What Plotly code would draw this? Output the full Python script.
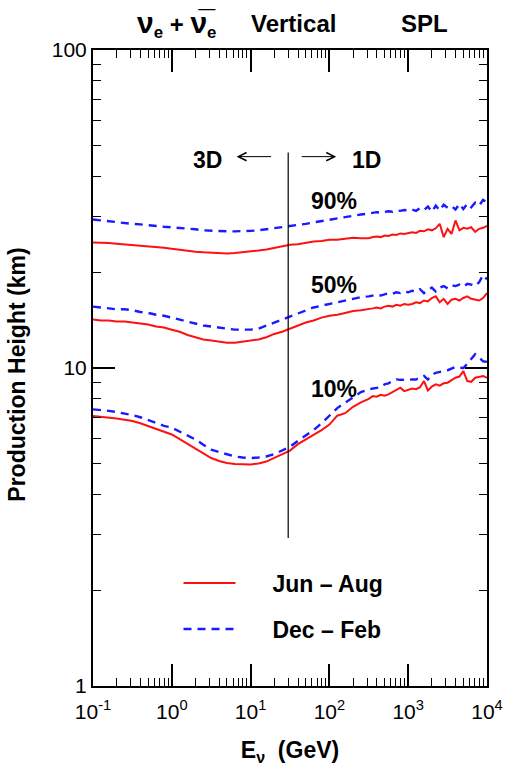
import math
import plotly.graph_objects as go

# Neutrino energy grid (log10 of E in GeV)
LOG_E = [-1.0, -0.9, -0.8, -0.7, -0.6, -0.5, -0.4, -0.3, -0.2, -0.1,
         0.0, 0.1, 0.2, 0.3, 0.4, 0.5, 0.6, 0.7, 0.8, 0.9,
         1.0, 1.1, 1.2, 1.3, 1.4, 1.5, 1.6, 1.7, 1.8, 1.9,
         2.0, 2.1, 2.2, 2.3, 2.4,
         2.5, 2.55, 2.6, 2.65, 2.7, 2.75, 2.8, 2.85, 2.9, 2.95,
         3.0, 3.05, 3.1, 3.15, 3.2, 3.25, 3.3, 3.35, 3.4, 3.45,
         3.5, 3.55, 3.6, 3.65, 3.7, 3.75, 3.8, 3.85, 3.9, 3.95, 4.0]
ENERGY = [10 ** v for v in LOG_E]

# Production height (km), Jun - Aug
SUMMER_90 = [24.8, 24.8, 24.7, 24.6, 24.5, 24.4, 24.3, 24.2, 24.0, 23.9,
             23.7, 23.5, 23.4, 23.2, 23.1, 23.0, 22.9, 22.9, 23.0, 23.1,
             23.2, 23.4, 23.6, 23.9, 24.1, 24.4, 24.5, 24.8, 25.0, 25.1,
             25.3, 25.3, 25.5, 25.7, 25.6,
             25.6, 25.8, 25.9, 25.8, 26.1, 26.0, 26.3, 26.2, 26.5, 26.4,
             26.6, 26.7, 26.6, 27.0, 26.9, 27.3, 27.1, 27.5, 28.4, 25.8,
             27.4, 26.4, 29.1, 27.1, 27.6, 27.4, 27.7, 26.8, 27.4, 27.6, 28.0]
SUMMER_50 = [14.2, 14.1, 14.1, 14.0, 14.0, 13.9, 13.8, 13.7, 13.5, 13.4,
             13.2, 13.0, 12.7, 12.5, 12.3, 12.2, 12.1, 12.0, 12.0, 12.1,
             12.2, 12.3, 12.5, 12.8, 13.0, 13.3, 13.6, 13.9, 14.1, 14.4,
             14.6, 14.7, 14.9, 15.1, 15.2,
             15.3, 15.4, 15.5, 15.4, 15.6, 15.7, 15.6, 15.8, 15.7, 15.9,
             15.8, 15.9, 16.1, 16.0, 16.3, 16.2, 16.6, 16.8, 16.1, 16.5,
             15.9, 16.4, 16.5, 16.3, 16.6, 16.8, 16.5, 16.4, 16.3, 16.6, 17.2]
SUMMER_10 = [7.06, 7.03, 6.99, 6.94, 6.88, 6.81, 6.70, 6.57, 6.44, 6.31,
             6.18, 5.98, 5.78, 5.61, 5.40, 5.21, 5.10, 5.03, 4.99, 4.97,
             4.97, 5.01, 5.08, 5.22, 5.36, 5.50, 5.76, 5.95, 6.14, 6.38,
             6.64, 7.08, 7.21, 7.55, 7.80,
             8.00, 8.16, 8.12, 8.24, 8.18, 8.26, 8.40, 8.52, 8.67, 8.46,
             8.55, 8.62, 8.58, 8.70, 9.10, 8.50, 8.74, 8.88, 8.80, 8.95,
             8.99, 9.15, 9.32, 9.40, 9.77, 9.10, 9.05, 9.32, 9.38, 9.44, 9.32]

# Production height (km), Dec - Feb
WINTER_90 = [29.3, 29.1, 29.0, 28.8, 28.6, 28.4, 28.3, 28.1, 28.0, 27.8,
             27.7, 27.6, 27.4, 27.3, 27.1, 27.0, 26.9, 26.9, 26.9, 26.9,
             27.0, 27.1, 27.3, 27.5, 27.7, 27.9, 28.2, 28.4, 28.7, 29.0,
             29.3, 29.6, 29.9, 30.2, 30.4,
             30.6, 30.7, 30.9, 30.8, 31.0, 31.1, 31.0, 31.3, 31.2, 31.4,
             31.3, 31.5, 31.2, 31.8, 31.4, 32.2, 31.0, 32.4, 31.3, 32.6,
             31.9, 32.3, 31.5, 32.8, 31.6, 32.9, 32.0, 33.1, 32.4, 33.8, 33.2]
WINTER_50 = [15.6, 15.5, 15.4, 15.3, 15.3, 15.2, 15.0, 14.9, 14.7, 14.6,
             14.4, 14.2, 14.0, 13.8, 13.6, 13.5, 13.4, 13.3, 13.2, 13.2,
             13.2, 13.3, 13.6, 13.9, 14.2, 14.5, 14.8, 15.2, 15.5, 15.7,
             15.9, 16.1, 16.3, 16.5, 16.7,
             16.8, 16.9, 17.0, 16.9, 17.1, 17.2, 17.1, 17.3, 17.2, 17.4,
             17.3, 17.5, 17.4, 17.7, 17.2, 17.6, 17.9, 17.4, 17.9, 18.1,
             17.8, 18.2, 18.1, 18.3, 18.0, 18.4, 18.3, 18.1, 18.6, 19.6, 19.0]
WINTER_10 = [7.41, 7.38, 7.33, 7.27, 7.20, 7.11, 7.00, 6.86, 6.72, 6.58,
             6.49, 6.30, 6.13, 5.96, 5.74, 5.54, 5.44, 5.34, 5.27, 5.23,
             5.21, 5.23, 5.27, 5.36, 5.50, 5.65, 5.90, 6.15, 6.38, 6.70,
             7.06, 7.48, 7.78, 8.10, 8.40,
             8.57, 8.62, 8.67, 8.70, 8.88, 8.95, 9.10, 9.21, 9.18, 9.15,
             9.17, 9.21, 9.20, 9.35, 9.44, 9.20, 9.50, 9.66, 9.70, 9.78,
             9.84, 9.95, 10.07, 10.02, 10.00, 10.30, 10.65, 11.05, 10.80, 10.50, 10.45]

# 3D / 1D boundary marker
BOUNDARY_E = 30.0
BOUNDARY_H = [2.92, 47.6]

X_TICKS = [0.1, 1, 10, 100, 1000, 10000]
X_TICK_TEXT = ["10<sup>-1</sup>", "10<sup>0</sup>", "10<sup>1</sup>",
               "10<sup>2</sup>", "10<sup>3</sup>", "10<sup>4</sup>"]
Y_TICKS = [1, 10, 100]
Y_TICK_TEXT = ["1", "10", "100"]

# minor ticks at 2..9 within each decade
X_MINOR = [m * 10.0 ** d for d in range(-1, 4) for m in range(2, 10)]
Y_MINOR = [m * 10.0 ** d for d in range(0, 2) for m in range(2, 10)]

RED = "#ff1010"
BLUE = "#1a1aff"
FONT = "Liberation Sans, Arial, sans-serif"
NB = "\u00a0"

fig = go.Figure()

summer_style = dict(color=RED, width=2)
winter_style = dict(color=BLUE, width=2.4, dash="8px,6px")

for i, ys in enumerate([SUMMER_90, SUMMER_50, SUMMER_10]):
    fig.add_trace(go.Scatter(x=ENERGY, y=ys, mode="lines", line=summer_style,
                             name=NB * 5 + "<b>Jun \u2013 Aug</b>",
                             legend="legend", showlegend=(i == 0)))
for i, ys in enumerate([WINTER_90, WINTER_50, WINTER_10]):
    fig.add_trace(go.Scatter(x=ENERGY, y=ys, mode="lines", line=winter_style,
                             name=NB * 5 + "<b>Dec \u2013 Feb</b>",
                             legend="legend2", showlegend=(i == 0)))

fig.add_trace(go.Scatter(x=[BOUNDARY_E, BOUNDARY_E], y=BOUNDARY_H, mode="lines",
                         line=dict(color="black", width=1.2), showlegend=False))

axis_common = dict(
    type="log", showline=True, linecolor="black", linewidth=2, mirror="allticks",
    ticks="inside", ticklen=22, tickwidth=1.5, tickcolor="black",
    showgrid=False, zeroline=False,
    tickfont=dict(family=FONT, size=21, color="black"),
)

fig.update_xaxes(range=[-1, 4], tickvals=X_TICKS, ticktext=X_TICK_TEXT,
                 ticklabelstandoff=6,
                 minor=dict(tickmode="array", tickvals=X_MINOR, ticks="inside",
                            ticklen=8, tickwidth=1.3, tickcolor="black", showgrid=False),
                 title=dict(text="<b>E<sub>\u03bd</sub>  (GeV)</b>",
                            font=dict(family=FONT, size=23, color="black"), standoff=20),
                 **axis_common)
fig.update_yaxes(range=[0, 2], tickvals=Y_TICKS, ticktext=Y_TICK_TEXT,
                 minor=dict(tickmode="array", tickvals=Y_MINOR, ticks="inside",
                            ticklen=8, tickwidth=1.3, tickcolor="black", showgrid=False),
                 **axis_common)

lx = math.log10
LABEL_FONT = dict(family=FONT, size=23, color="black")

labels = [
    (0.456, lx(45.0), "<b>3D</b>"),
    (2.468, lx(45.0), "<b>1D</b>"),
    (2.063, lx(33.6), "<b>90%</b>"),
    (2.063, lx(18.3), "<b>50%</b>"),
    (2.063, lx(8.6), "<b>10%</b>"),
]
for xv, yv, txt in labels:
    fig.add_annotation(x=xv, y=yv, xref="x", yref="y", text=txt,
                       showarrow=False, font=LABEL_FONT)

# arrows either side of the boundary
fig.add_annotation(x=lx(6.65), y=lx(46.2), xref="x", yref="y", ax=36, ay=0,
                   text="", showarrow=True, arrowhead=5, arrowsize=1.6,
                   arrowwidth=1, arrowcolor="black")
fig.add_annotation(x=lx(122), y=lx(46.2), xref="x", yref="y", ax=-36, ay=0,
                   text="", showarrow=True, arrowhead=5, arrowsize=1.6,
                   arrowwidth=1, arrowcolor="black")

# vertical axis title
fig.add_annotation(x=-0.192, y=0.49, xref="paper", yref="paper",
                   text="<b>Production Height (km)</b>", textangle=-90,
                   xanchor="center", yanchor="middle", showarrow=False,
                   font=dict(family=FONT, size=23, color="black"))

# header labels above the frame
header = [
    (0.212, "<b><span style='font-size:30px'>\u03bd</span><sub>e</sub> + "
            "<span style='font-size:30px'>\u03bd\u0305</span><sub>e</sub></b>", 24),
    (0.508, "<b>Vertical</b>", 24),
    (0.841, "<b>SPL</b>", 24),
]
for xp, txt, sz in header:
    fig.add_annotation(x=xp, y=1.041, xref="paper", yref="paper", text=txt,
                       xanchor="center", yanchor="middle", showarrow=False,
                       font=dict(family=FONT, size=sz, color="black"))

legend_common = dict(bgcolor="rgba(0,0,0,0)", borderwidth=0, xanchor="left",
                     yanchor="middle", itemwidth=52,
                     font=dict(family=FONT, size=23, color="black"))
fig.update_layout(
    width=515, height=771,
    margin=dict(l=93, r=26, t=50, b=85),
    paper_bgcolor="white", plot_bgcolor="white",
    legend=dict(x=0.217, y=1 - (583 - 50) / 636, **legend_common),
    legend2=dict(x=0.217, y=1 - (629 - 50) / 636, **legend_common),
)

fig.write_html("out.html")
